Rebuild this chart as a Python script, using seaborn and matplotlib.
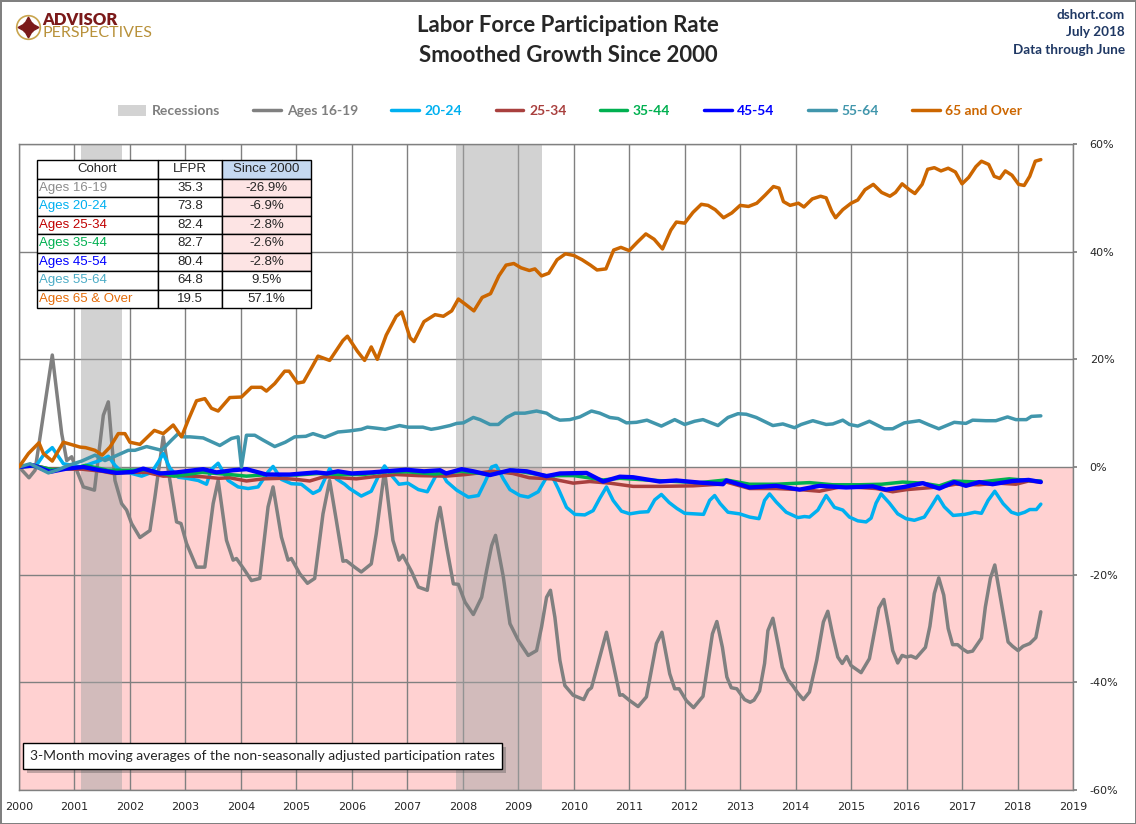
import matplotlib
matplotlib.use("Agg")
import matplotlib.pyplot as plt
import matplotlib.patheffects as pe
from matplotlib.patches import Patch
from matplotlib.lines import Line2D
import seaborn as sns
import pandas as pd

# ---- data (decimal year, % change since Jan 2000) ----
t_1619 = [2000.00, 2000.18, 2000.29, 2000.60, 2000.77, 2000.86, 2000.95, 2001.04, 2001.16, 2001.36,
          2001.52, 2001.61, 2001.73, 2001.85, 2001.94, 2002.03, 2002.18, 2002.36, 2002.45, 2002.60,
          2002.72, 2002.84, 2002.92, 2003.02, 2003.20, 2003.35, 2003.50, 2003.59, 2003.74, 2003.86,
          2003.92, 2004.07, 2004.19, 2004.34, 2004.49, 2004.58, 2004.73, 2004.85, 2004.91, 2005.06,
          2005.20, 2005.33, 2005.48, 2005.60, 2005.72, 2005.84, 2005.90, 2006.05, 2006.17, 2006.35,
          2006.44, 2006.59, 2006.74, 2006.85, 2006.92, 2007.08, 2007.20, 2007.36, 2007.53, 2007.59,
          2007.71, 2007.83, 2007.92, 2008.04, 2008.19, 2008.34, 2008.43, 2008.52, 2008.59, 2008.73,
          2008.85, 2009.00, 2009.18, 2009.33, 2009.42, 2009.51, 2009.58, 2009.66, 2009.75, 2009.84,
          2009.99, 2010.18, 2010.26, 2010.32, 2010.50, 2010.59, 2010.71, 2010.83, 2010.88, 2011.01,
          2011.16, 2011.31, 2011.49, 2011.59, 2011.73, 2011.82, 2011.90, 2012.03, 2012.16, 2012.33,
          2012.50, 2012.58, 2012.68, 2012.76, 2012.84, 2012.94, 2013.08, 2013.18, 2013.25, 2013.35,
          2013.44, 2013.50, 2013.59, 2013.68, 2013.76, 2013.86, 2013.94, 2014.04, 2014.14, 2014.25,
          2014.38, 2014.50, 2014.58, 2014.67, 2014.76, 2014.84, 2014.92, 2015.00, 2015.18, 2015.33,
          2015.50, 2015.59, 2015.68, 2015.75, 2015.84, 2015.92, 2016.00, 2016.08, 2016.17, 2016.34,
          2016.42, 2016.50, 2016.58, 2016.67, 2016.75, 2016.83, 2016.92, 2017.01, 2017.10, 2017.19,
          2017.35, 2017.42, 2017.51, 2017.59, 2017.69, 2017.83, 2017.91, 2018.01, 2018.10, 2018.22,
          2018.33, 2018.42]
v_1619 = [0.0, -2.0, -0.6, 20.8, 6.2, 1.2, 1.9, -0.6, -3.7, -4.3,
          9.6, 12.1, -2.5, -6.8, -8.0, -10.5, -13.1, -11.8, -5.6, 5.6,
          -2.5, -10.2, -10.5, -14.2, -18.6, -18.6, -6.8, -2.5, -13.6, -17.3,
          -17.0, -19.2, -21.1, -20.7, -7.4, -3.7, -13.0, -17.3, -17.0, -19.8,
          -21.6, -20.7, -8.7, -2.5, -9.9, -17.5, -17.4, -18.6, -19.5, -18.0,
          -12.4, -0.6, -13.6, -17.3, -16.4, -19.5, -22.3, -22.9, -10.5, -7.5,
          -14.9, -21.7, -21.8, -25.1, -27.4, -24.2, -19.2, -14.6, -12.7, -20.4,
          -29.1, -32.2, -35.0, -34.1, -29.7, -24.2, -22.9, -27.9, -35.9, -40.6,
          -42.4, -43.2, -41.5, -41.0, -34.1, -30.7, -36.5, -42.4, -42.3, -43.4,
          -44.5, -42.7, -32.8, -30.7, -38.4, -41.2, -41.2, -43.4, -44.7, -42.6,
          -31.0, -28.7, -33.5, -39.0, -41.0, -41.2, -43.2, -43.7, -43.3, -41.6,
          -36.5, -30.4, -28.1, -32.8, -37.2, -39.5, -40.5, -42.0, -43.2, -41.8,
          -35.9, -28.8, -26.8, -31.3, -35.3, -36.5, -35.2, -36.9, -38.2, -35.6,
          -26.2, -24.6, -29.7, -34.1, -36.4, -35.0, -35.3, -35.1, -35.5, -33.5,
          -29.6, -23.5, -20.6, -23.8, -30.0, -33.0, -33.0, -33.8, -34.4, -34.2,
          -31.8, -26.0, -20.7, -18.2, -24.2, -32.5, -33.3, -34.1, -33.3, -32.8,
          -31.7, -26.9]

t_2024 = [2000.00, 2000.18, 2000.30, 2000.44, 2000.60, 2000.80, 2000.98, 2001.13, 2001.34, 2001.46,
          2001.61, 2001.73, 2001.85, 2002.00, 2002.21, 2002.39, 2002.51, 2002.60, 2002.72, 2002.87,
          2003.02, 2003.23, 2003.38, 2003.47, 2003.59, 2003.77, 2003.95, 2004.13, 2004.31, 2004.49,
          2004.58, 2004.73, 2004.91, 2005.09, 2005.30, 2005.42, 2005.60, 2005.72, 2005.87, 2005.96,
          2006.17, 2006.35, 2006.47, 2006.59, 2006.71, 2006.85, 2007.01, 2007.20, 2007.36, 2007.50,
          2007.59, 2007.71, 2007.89, 2008.10, 2008.28, 2008.40, 2008.52, 2008.60, 2008.73, 2008.85,
          2009.03, 2009.18, 2009.36, 2009.51, 2009.60, 2009.72, 2009.87, 2010.02, 2010.20, 2010.35,
          2010.47, 2010.59, 2010.71, 2010.86, 2011.01, 2011.19, 2011.34, 2011.46, 2011.58, 2011.72,
          2011.86, 2012.00, 2012.18, 2012.34, 2012.45, 2012.54, 2012.64, 2012.78, 2012.99, 2013.17,
          2013.34, 2013.44, 2013.53, 2013.65, 2013.83, 2014.04, 2014.16, 2014.25, 2014.40, 2014.55,
          2014.70, 2014.85, 2014.97, 2015.12, 2015.27, 2015.36, 2015.45, 2015.54, 2015.69, 2015.84,
          2015.99, 2016.14, 2016.32, 2016.44, 2016.56, 2016.68, 2016.84, 2017.05, 2017.23, 2017.35,
          2017.47, 2017.59, 2017.74, 2017.89, 2018.01, 2018.13, 2018.22, 2018.34, 2018.42]
v_2024 = [0.0, 0.4, 0.1, 2.2, 3.6, 0.6, 0.3, 0.0, 0.8, 1.2,
          2.0, 0.3, -0.9, -1.1, -1.7, -1.0, 0.9, 2.5, -0.2, -1.9,
          -2.1, -2.5, -3.2, -0.4, 0.7, -2.5, -3.7, -4.0, -3.7, -0.9,
          0.1, -2.3, -3.1, -3.2, -4.9, -4.3, -0.3, -2.2, -3.2, -4.0,
          -5.4, -4.5, -1.9, 0.2, -1.5, -3.2, -3.0, -4.2, -4.6, -1.9,
          -0.6, -2.7, -4.3, -5.6, -5.3, -2.8, 0.0, 0.3, -2.2, -4.2,
          -5.3, -5.6, -4.6, -1.9, -1.5, -4.0, -7.5, -8.8, -8.9, -8.1,
          -5.8, -3.7, -6.2, -8.2, -8.7, -8.4, -8.3, -6.1, -5.1, -6.6,
          -7.7, -8.6, -8.7, -8.8, -6.2, -5.3, -6.8, -8.4, -8.7, -9.3,
          -9.6, -6.2, -5.0, -6.5, -8.4, -9.4, -9.2, -9.3, -8.0, -5.3,
          -7.5, -8.0, -9.3, -10.0, -10.2, -9.5, -6.7, -5.0, -6.7, -8.7,
          -9.6, -9.9, -9.3, -7.4, -5.4, -7.4, -9.0, -8.8, -8.4, -8.6,
          -6.2, -4.5, -6.8, -8.4, -8.8, -8.4, -7.9, -7.9, -6.9]

t_2534 = [2000.00, 2000.26, 2000.40, 2000.55, 2001.13, 2001.50, 2001.70, 2002.00, 2002.30, 2002.60,
          2002.90, 2003.30, 2003.60, 2003.80, 2004.10, 2004.40, 2004.73, 2005.00, 2005.24, 2005.50,
          2005.80, 2006.08, 2006.40, 2006.80, 2007.20, 2007.70, 2008.05, 2008.54, 2008.90, 2009.20,
          2009.60, 2009.99, 2010.29, 2010.65, 2011.07, 2011.55, 2012.15, 2012.63, 2012.75, 2013.17,
          2013.65, 2014.07, 2014.43, 2014.85, 2015.15, 2015.45, 2015.75, 2016.00, 2016.35, 2016.60,
          2016.88, 2017.30, 2017.65, 2017.97, 2018.20, 2018.42]
v_2534 = [0.0, 0.3, 0.0, -0.4, -0.4, -0.8, -1.2, -1.0, -1.0, -1.7,
          -1.6, -1.8, -2.1, -2.0, -2.6, -2.2, -2.1, -2.3, -2.6, -1.8,
          -2.0, -2.2, -1.8, -1.4, -1.6, -1.7, -1.4, -0.8, -1.2, -2.0,
          -2.2, -3.0, -2.7, -3.0, -3.6, -3.6, -3.5, -3.2, -2.8, -4.0,
          -4.0, -4.2, -4.5, -3.6, -3.8, -4.0, -4.6, -4.2, -3.9, -3.7,
          -3.2, -3.3, -3.0, -3.2, -2.6, -2.8]

t_3544 = [2000.00, 2000.30, 2000.60, 2001.00, 2001.20, 2001.60, 2002.00, 2002.30, 2002.80, 2003.30,
          2003.80, 2004.10, 2004.50, 2005.00, 2005.40, 2005.80, 2006.20, 2006.60, 2007.00, 2007.50,
          2007.98, 2008.50, 2008.90, 2009.50, 2010.00, 2010.53, 2010.83, 2011.30, 2011.85, 2012.27,
          2012.75, 2013.17, 2013.65, 2014.25, 2014.67, 2015.15, 2015.55, 2015.93, 2016.29, 2016.59,
          2016.84, 2017.31, 2017.85, 2018.20, 2018.42]
v_3544 = [0.0, 0.2, -0.5, -0.2, 0.3, -0.6, -0.6, -0.5, -1.7, -1.0,
          -1.4, -1.7, -1.4, -1.5, -1.2, -1.4, -1.4, -0.9, -0.9, -1.3,
          -0.8, -1.4, -0.6, -1.6, -1.6, -2.4, -2.1, -2.4, -2.7, -2.9,
          -2.4, -3.2, -3.2, -2.9, -3.3, -3.3, -3.2, -2.8, -3.0, -3.5,
          -2.6, -2.8, -2.2, -2.5, -2.6]

t_4554 = [2000.00, 2000.26, 2000.56, 2000.86, 2001.16, 2001.46, 2001.76, 2002.06, 2002.24, 2002.54,
          2002.84, 2003.32, 2003.56, 2003.86, 2004.10, 2004.46, 2004.88, 2005.36, 2005.55, 2005.75,
          2006.00, 2006.35, 2006.60, 2006.98, 2007.30, 2007.59, 2007.70, 2007.98, 2008.19, 2008.49,
          2008.85, 2009.15, 2009.51, 2009.75, 2010.23, 2010.53, 2010.83, 2011.07, 2011.55, 2011.85,
          2012.27, 2012.69, 2012.75, 2013.17, 2013.65, 2014.07, 2014.43, 2014.91, 2015.39, 2015.63,
          2015.96, 2016.29, 2016.59, 2016.86, 2017.07, 2017.31, 2017.55, 2017.91, 2018.20, 2018.42]
v_4554 = [0.0, 0.3, -0.9, -0.3, 0.0, -0.6, -1.1, -0.9, -0.3, -1.2,
          -1.0, -0.4, -1.0, -0.6, -0.4, -1.4, -1.4, -1.0, -1.2, -0.8,
          -1.2, -1.0, -0.8, -0.5, -0.8, -0.6, -1.2, -0.4, -0.8, -1.5,
          -0.6, -0.8, -1.7, -1.2, -1.1, -2.7, -1.8, -1.9, -2.7, -2.5,
          -2.9, -3.2, -2.5, -3.8, -3.5, -4.2, -3.5, -3.8, -3.6, -4.2,
          -3.7, -3.0, -4.0, -2.8, -3.5, -2.8, -3.2, -2.6, -2.4, -2.8]

t_5564 = [2000.00, 2000.20, 2000.53, 2000.71, 2000.89, 2001.13, 2001.37, 2001.55, 2001.73, 2001.97,
          2002.09, 2002.30, 2002.57, 2002.75, 2002.87, 2002.96, 2003.08, 2003.32, 2003.62, 2003.83,
          2003.95, 2004.01, 2004.10, 2004.25, 2004.40, 2004.61, 2004.80, 2004.97, 2005.17, 2005.30,
          2005.51, 2005.75, 2005.96, 2006.17, 2006.28, 2006.45, 2006.60, 2006.86, 2007.01, 2007.28,
          2007.43, 2007.55, 2007.77, 2007.89, 2008.01, 2008.19, 2008.31, 2008.49, 2008.64, 2008.79,
          2008.94, 2009.12, 2009.33, 2009.51, 2009.63, 2009.75, 2009.93, 2010.11, 2010.32, 2010.47,
          2010.65, 2010.80, 2010.95, 2011.13, 2011.32, 2011.58, 2011.82, 2012.00, 2012.18, 2012.33,
          2012.60, 2012.78, 2012.96, 2013.11, 2013.29, 2013.59, 2013.77, 2013.98, 2014.10, 2014.31,
          2014.55, 2014.67, 2014.85, 2014.97, 2015.12, 2015.33, 2015.60, 2015.75, 2015.96, 2016.23,
          2016.41, 2016.58, 2016.86, 2017.07, 2017.19, 2017.43, 2017.61, 2017.82, 2017.97, 2018.16,
          2018.25, 2018.42]
v_5564 = [0.0, 0.6, -1.1, -0.5, 0.3, 1.1, 2.2, 1.2, 2.0, 3.1,
          3.1, 3.8, 3.1, 5.0, 6.2, 5.6, 5.6, 5.4, 4.0, 5.3,
          5.6, 0.0, 5.9, 5.9, 5.0, 3.8, 4.6, 5.6, 5.7, 6.2,
          5.5, 6.5, 6.7, 7.0, 7.4, 7.2, 7.0, 7.7, 7.4, 7.4,
          7.0, 7.2, 7.7, 8.1, 8.2, 9.2, 8.8, 7.9, 7.9, 9.2,
          10.0, 10.0, 10.4, 10.0, 9.2, 8.7, 8.8, 9.3, 10.4, 10.0,
          9.2, 9.0, 8.2, 8.3, 8.7, 7.6, 8.8, 7.9, 8.5, 8.8,
          7.7, 9.2, 9.9, 9.8, 9.2, 7.7, 8.0, 7.3, 7.9, 8.6,
          7.9, 8.0, 8.7, 7.9, 7.6, 8.5, 7.1, 7.1, 8.2, 8.6,
          7.8, 7.1, 8.3, 8.1, 8.7, 8.6, 8.6, 9.3, 8.8, 8.8,
          9.4, 9.5]

t_65 = [2000.00, 2000.17, 2000.36, 2000.44, 2000.60, 2000.80, 2000.90, 2001.10, 2001.20, 2001.37,
        2001.50, 2001.64, 2001.79, 2001.91, 2002.00, 2002.18, 2002.44, 2002.60, 2002.78, 2002.93,
        2003.05, 2003.20, 2003.35, 2003.47, 2003.59, 2003.80, 2004.01, 2004.19, 2004.37, 2004.46,
        2004.61, 2004.79, 2004.87, 2005.02, 2005.13, 2005.30, 2005.39, 2005.60, 2005.84, 2005.92,
        2006.10, 2006.23, 2006.35, 2006.46, 2006.62, 2006.80, 2006.90, 2007.05, 2007.12, 2007.30,
        2007.50, 2007.65, 2007.80, 2007.92, 2008.05, 2008.20, 2008.35, 2008.50, 2008.65, 2008.78,
        2008.92, 2009.05, 2009.20, 2009.30, 2009.42, 2009.55, 2009.70, 2009.85, 2010.00, 2010.15,
        2010.30, 2010.42, 2010.58, 2010.72, 2010.85, 2011.00, 2011.15, 2011.30, 2011.45, 2011.60,
        2011.75, 2011.85, 2012.00, 2012.15, 2012.30, 2012.42, 2012.55, 2012.70, 2012.85, 2013.00,
        2013.15, 2013.30, 2013.45, 2013.60, 2013.70, 2013.78, 2013.90, 2014.05, 2014.15, 2014.30,
        2014.45, 2014.55, 2014.65, 2014.72, 2014.85, 2015.00, 2015.12, 2015.25, 2015.40, 2015.55,
        2015.70, 2015.80, 2015.92, 2016.05, 2016.15, 2016.28, 2016.38, 2016.50, 2016.62, 2016.75,
        2016.88, 2017.00, 2017.12, 2017.25, 2017.35, 2017.48, 2017.58, 2017.68, 2017.78, 2017.90,
        2018.02, 2018.12, 2018.22, 2018.32, 2018.42]
v_65 = [0.0, 2.5, 4.5, 2.5, 1.1, 4.6, 4.3, 3.7, 3.6, 3.1,
        2.2, 3.7, 6.2, 6.2, 4.6, 4.2, 6.8, 6.2, 7.8, 5.6,
        8.7, 12.3, 12.7, 10.9, 10.4, 12.9, 13.0, 14.8, 14.8, 14.1,
        15.5, 17.8, 17.8, 15.6, 15.8, 18.9, 20.6, 19.8, 23.5, 24.3,
        21.5, 19.8, 22.3, 20.0, 24.5, 28.0, 28.8, 24.0, 23.3, 27.0,
        28.3, 28.0, 29.0, 31.2, 30.2, 29.0, 31.5, 32.2, 35.5, 37.5,
        37.8, 37.0, 36.5, 36.8, 35.5, 36.0, 38.5, 39.6, 39.3, 38.5,
        37.5, 36.6, 36.8, 40.3, 40.8, 40.2, 41.8, 43.3, 42.3, 40.5,
        44.0, 45.5, 45.3, 47.3, 48.8, 48.6, 47.8, 46.3, 47.2, 48.6,
        48.4, 49.0, 50.5, 52.1, 51.8, 49.3, 48.6, 49.0, 48.3, 49.8,
        50.3, 50.0, 47.5, 46.3, 47.8, 49.0, 49.6, 51.5, 52.5, 51.0,
        50.3, 51.0, 52.6, 51.5, 50.8, 52.5, 55.3, 55.6, 55.0, 55.5,
        54.8, 52.6, 53.8, 55.8, 56.8, 56.2, 54.0, 53.6, 55.0, 54.2,
        52.5, 52.3, 54.0, 56.8, 57.1]

recessions = [(2001.12, 2001.86), (2007.87, 2009.42)]

cohorts = ["Ages 16-19", "Ages 20-24", "Ages 25-34", "Ages 35-44", "Ages 45-54", "Ages 55-64", "Ages 65 & Over"]
lfpr = ["35.3", "73.8", "82.4", "82.7", "80.4", "64.8", "19.5"]
since_2000 = ["-26.9%", "-6.9%", "-2.8%", "-2.6%", "-2.8%", "9.5%", "57.1%"]

legend_labels = ["Ages 16-19", "20-24", "25-34", "35-44", "45-54", "55-64", "65 and Over"]

# ---- styles ----
line_colors = ["#808080", "#00B0F0", "#A9403E", "#00B050", "#0000FF", "#4196AC", "#CC6600"]
line_widths = [2.5, 2.5, 2.5, 2.5, 3.1, 2.5, 2.5]
table_colors = ["#8C8C8C", "#00B0F0", "#C00000", "#00B050", "#0000FF", "#4BACC6", "#E46C0A"]

series = [(t_1619, v_1619), (t_2024, v_2024), (t_2534, v_2534), (t_3544, v_3544),
          (t_4554, v_4554), (t_5564, v_5564), (t_65, v_65)]

sns.set_theme(style="white")
plt.rcParams["font.family"] = ["Lato", "DejaVu Sans"]

fig = plt.figure(figsize=(11.36, 8.24), dpi=100)
ax = fig.add_axes([19 / 1136, 1 - 790 / 824, 1054 / 1136, 646 / 824])

ax.axhspan(-60, 0, color="#FFD1D1", zorder=0, lw=0)
for a, b in recessions:
    ax.axvspan(a, b, color="#A6A6A6", alpha=0.5, zorder=0.6, lw=0)

for (t, v), c, lw in zip(series, line_colors, line_widths):
    df = pd.DataFrame({"year": t, "pct": v})
    sns.lineplot(data=df, x="year", y="pct", color=c, lw=lw, ax=ax,
                 estimator=None, sort=True, zorder=3)

ax.set_xlim(2000, 2019)
ax.set_ylim(-60, 60)
ax.set_xticks(range(2000, 2020))
ax.set_xticklabels([str(y) for y in range(2000, 2020)], fontsize=8, family="DejaVu Sans")
ax.set_yticks(range(-60, 61, 20))
ax.set_yticklabels([f"{y}%" for y in range(-60, 61, 20)], fontsize=8, family="DejaVu Sans")
ax.yaxis.tick_right()
ax.tick_params(axis="y", length=3, color="#808080", pad=9)
ax.tick_params(axis="x", length=0, pad=9)
ax.grid(True, color="#808080", lw=1, zorder=0.5)
ax.set_axisbelow(True)
for s in ax.spines.values():
    s.set_color("#808080")
    s.set_linewidth(1)
ax.set_xlabel("")
ax.set_ylabel("")

# ---- summary table ----
cell_text = [[c, l, s] for c, l, s in zip(cohorts, lfpr, since_2000)]
tbl = ax.table(cellText=cell_text, colLabels=["Cohort", "LFPR", "Since 2000"],
               colWidths=[121, 64, 89], cellLoc="center",
               bbox=[18 / 1054, (790 - 308) / 646, 274 / 1054, 148 / 646], zorder=6)
tbl.auto_set_font_size(False)
for (r, c), cell in tbl.get_celld().items():
    cell.set_edgecolor("black")
    cell.set_linewidth(1)
    cell.get_text().set_fontsize(9.5)
    cell.get_text().set_fontfamily("Liberation Sans")
    if r == 0:
        if c == 2:
            cell.set_facecolor("#C5D9F1")
    else:
        if c == 0:
            cell.get_text().set_color(table_colors[r - 1])
            cell.get_text().set_ha("left")
            cell._loc = "left"
            cell.PAD = 0.02
        if c == 2 and since_2000[r - 1].startswith("-"):
            cell.set_facecolor("#FDE4E4")

# ---- note box ----
note = ax.text((30 - 19) / 1054, (790 - 756) / 646,
               "3-Month moving averages of the non-seasonally adjusted participation rates",
               transform=ax.transAxes, fontsize=10, va="center", ha="left", zorder=7,
               bbox=dict(boxstyle="square,pad=0.5", fc="white", ec="black", lw=1))
note.get_bbox_patch().set_path_effects([pe.SimplePatchShadow(offset=(3, -3), alpha=0.35), pe.Normal()])

# ---- legend ----
handles = [Patch(facecolor="#D3D3D3", edgecolor="none")]
handles += [Line2D([0], [0], color=c, lw=2.5) for c in line_colors]
labels = ["Recessions"] + legend_labels
leg = fig.legend(handles, labels, loc="center", bbox_to_anchor=(0.502, 1 - 111 / 824), ncol=8,
                 frameon=False, handlelength=2.0, handleheight=0.9, handletextpad=0.4,
                 columnspacing=2.4, prop={"family": "Lato", "weight": "bold", "size": 10},
                 labelcolor=["#7F7F7F", "#7F7F7F"] + line_colors[1:])

# ---- titles and header text ----
fig.text(0.5, 1 - 25 / 824, "Labor Force Participation Rate", ha="center", va="center",
         fontsize=16, weight="bold")
fig.text(0.5, 1 - 55 / 824, "Smoothed Growth Since 2000", ha="center", va="center",
         fontsize=16, weight="bold")
for i, s in enumerate(["dshort.com", "July 2018", "Data through June"]):
    fig.text(1125 / 1136, 1 - (15 + 17.5 * i) / 824, s, ha="right", va="center",
             fontsize=9.7, weight="bold", color="#1F3864")

# logo
fig.text(42 / 1136, 1 - 20 / 824, "ADVISOR", ha="left", va="center", fontsize=12,
         weight="heavy", color="#7B1A1A")
fig.text(42 / 1136, 1 - 33 / 824, "PERSPECTIVES", ha="left", va="center", fontsize=11.5,
         weight="normal", color="#B8913A")
fig.add_artist(Line2D([28 / 1136], [1 - 27 / 824], marker="o", ms=17, mfc="none", mec="#C9A54E",
                      mew=1.2, transform=fig.transFigure))
fig.add_artist(Line2D([28 / 1136], [1 - 27 / 824], marker=(4, 1, 45), ms=9, color="#7B1A1A",
                      transform=fig.transFigure))
fig.add_artist(Line2D([28 / 1136], [1 - 27 / 824], marker=(4, 1, 0), ms=15, color="#7B1A1A",
                      transform=fig.transFigure))

fig.patch.set_edgecolor("#808080")
fig.patch.set_linewidth(2)
fig.savefig("out.png", dpi=100, facecolor="white", edgecolor=fig.get_edgecolor())
